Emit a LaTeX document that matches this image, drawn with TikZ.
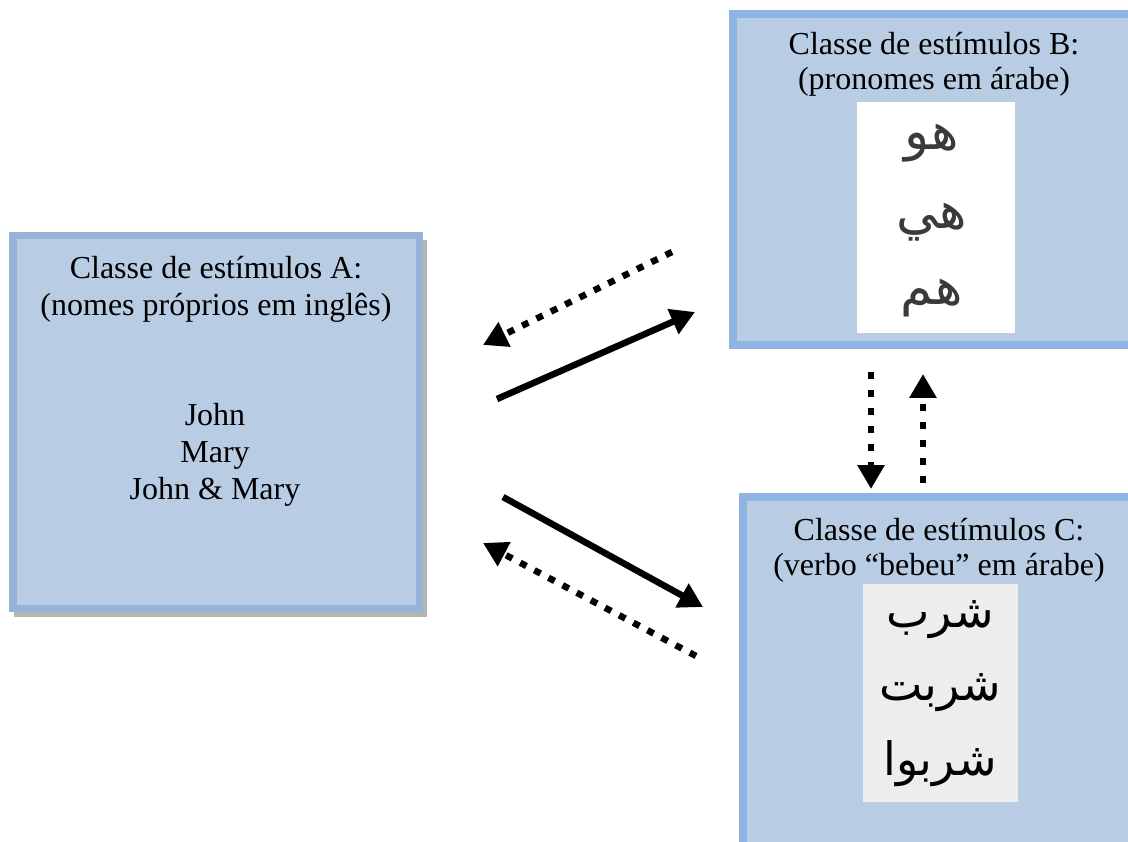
\documentclass[tikz,border=0pt]{standalone}
\usepackage{fontspec}
\setmainfont{Liberation Serif}
\newfontfamily\arabicfont[Script=Arabic]{DejaVu Sans}
\TeXXeTstate=1
\usetikzlibrary{arrows.meta}
\definecolor{boxfill}{HTML}{B8CCE4}
\definecolor{boxlineA}{HTML}{95B3D7}
\definecolor{boxline}{HTML}{8DB4E2}
\definecolor{shadowgray}{HTML}{B4B4B4}
\definecolor{imggray}{HTML}{EDEDED}
\definecolor{inkgray}{HTML}{3A3A3A}
\begin{document}
\begin{tikzpicture}[x=1pt,y=-1pt,
  classbox/.style={draw=boxline, line width=7.5pt, fill=boxfill, inner sep=0pt, outer sep=0pt},
  lbl/.style={font=\fontsize{32}{37}\selectfont, inner sep=0pt, anchor=base},
  solidarrow/.style={line width=6.5pt, -{Triangle[width=26pt,length=24pt]}},
  dotarrow/.style={solidarrow, dash pattern=on 7pt off 9pt},
  imgbox/.style={inner sep=0pt, outer sep=0pt, draw=none},
  arabB/.style={font=\arabicfont\fontsize{52}{56}\selectfont, inner sep=0pt, text=inkgray},
  arabC/.style={font=\arabicfont\fontsize{46}{50}\selectfont, inner sep=0pt, text=black}
]
\useasboundingbox (0,0) rectangle (1128,842);

% shadow of box A
\fill[shadowgray] (14,240) rectangle (427,617);

% boxes
\node[classbox, draw=boxlineA, minimum width=406.5pt, minimum height=372.5pt] (A) at (216,422) {};
\node[classbox, minimum width=407pt, minimum height=331pt] (B) at (936.5,179.5) {};
\node[classbox, minimum width=397pt, minimum height=363pt] (C) at (941.5,678.5) {};

% texts box A
\node[lbl] (a1) at (216,279) {Classe de estímulos A:};
\node[lbl] (a2) at (216,316) {(nomes próprios em inglês)};
\node[lbl] (a3) at (215,425) {John};
\node[lbl] (a4) at (215,462) {Mary};
\node[lbl] (a5) at (215,499) {John \& Mary};

% texts box B
\node[lbl] (b1) at (934,55) {Classe de estímulos B:};
\node[lbl] (b2) at (934,90) {(pronomes em árabe)};

% texts box C
\node[lbl] (c1) at (939,540) {Classe de estímulos C:};
\node[lbl] (c2) at (939,575) {(verbo “bebeu” em árabe)};

% image B (handwritten pronouns)
\node[imgbox, fill=white, minimum width=158pt, minimum height=231pt] (Bimg) at (936,217.5) {};
\node[arabB] (bw1) at (932,143) {\beginR هو\endR};
\node[arabB] (bw2) at (932,222) {\beginR هي\endR};
\node[arabB] (bw3) at (932,298) {\beginR هم\endR};

% image C (printed verbs)
\node[imgbox, fill=imggray, minimum width=155pt, minimum height=218pt] (Cimg) at (940.5,693) {};
\node[arabC] (cw1) at (940,620) {\beginR شرب\endR};
\node[arabC] (cw2) at (940,693) {\beginR شربت\endR};
\node[arabC] (cw3) at (940,764) {\beginR شربوا\endR};

% arrow end points
\coordinate (p1s) at (672,252); \coordinate (p1e) at (483,345);
\coordinate (p2s) at (497,399); \coordinate (p2e) at (695,312);
\coordinate (p3s) at (503,497); \coordinate (p3e) at (703,607);
\coordinate (p4s) at (696,656); \coordinate (p4e) at (483,543);
\coordinate (p5s) at (871,372); \coordinate (p5e) at (871,489);
\coordinate (p6s) at (923,483); \coordinate (p6e) at (923,374);

\draw[dotarrow] (p1s) -- (p1e);
\draw[solidarrow] (p2s) -- (p2e);
\draw[solidarrow] (p3s) -- (p3e);
\draw[dotarrow] (p4s) -- (p4e);
\draw[dotarrow, dash pattern=on 7pt off 11pt] (p5s) -- (p5e);
\draw[dotarrow, dash pattern=on 7pt off 11pt] (p6s) -- (p6e);
\end{tikzpicture}
\end{document}
